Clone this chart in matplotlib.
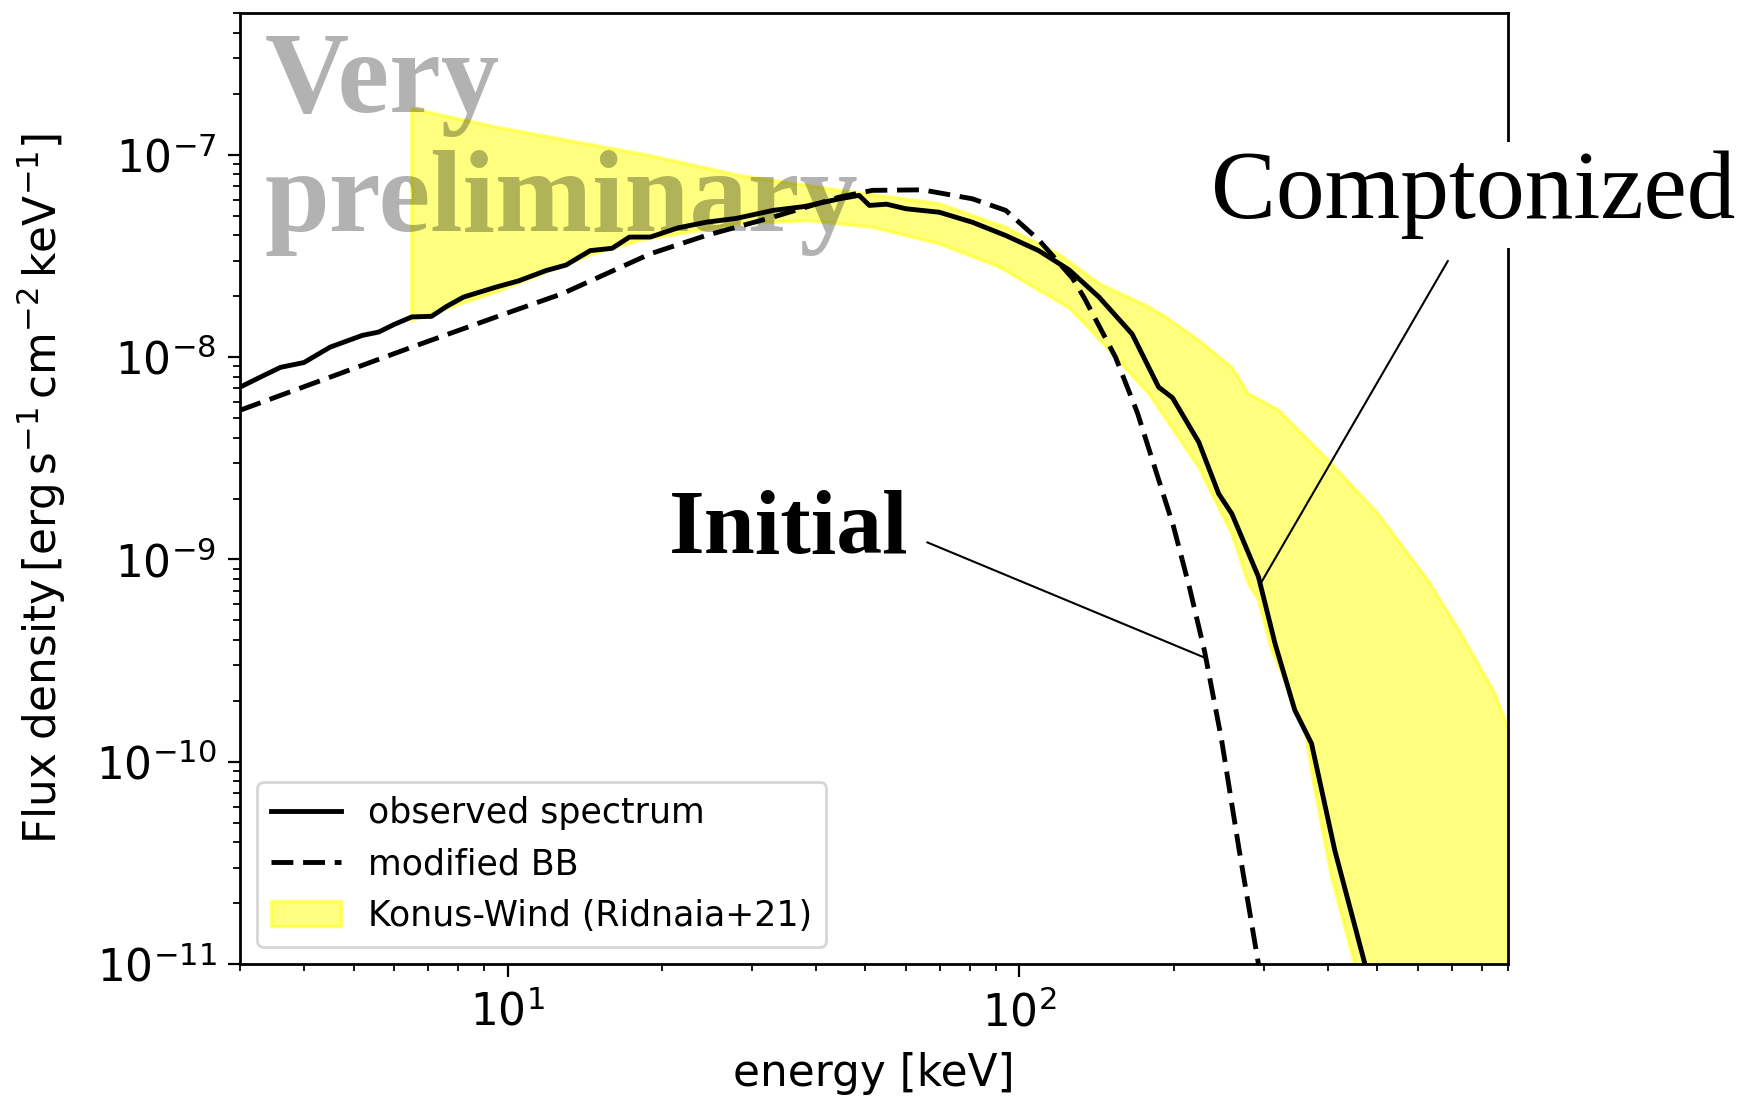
import matplotlib.pyplot as plt

# observed spectrum (solid)
obs_e = [3.0, 3.3, 3.6, 4.0, 4.5, 5.2, 5.6, 6.0, 6.5, 7.1, 7.6, 8.2, 9.5, 10.5, 11.9,
         13.0, 14.5, 16.0, 17.3, 19.0, 21.5, 24.4, 28.0, 33.0, 38.0, 44.5, 48.6, 50.9,
         55.0, 60.0, 69.7, 80.9, 94.0, 109, 125, 143, 166, 187, 199, 224, 245, 260,
         293, 316, 345, 372, 413, 473, 520]
obs_f = [7.1e-9, 8.0e-9, 8.9e-9, 9.4e-9, 1.12e-8, 1.28e-8, 1.33e-8, 1.45e-8, 1.58e-8,
         1.59e-8, 1.78e-8, 1.98e-8, 2.22e-8, 2.38e-8, 2.68e-8, 2.85e-8, 3.36e-8, 3.45e-8,
         3.92e-8, 3.92e-8, 4.35e-8, 4.64e-8, 4.85e-8, 5.31e-8, 5.55e-8, 6.06e-8, 6.30e-8,
         5.62e-8, 5.70e-8, 5.41e-8, 5.20e-8, 4.64e-8, 3.99e-8, 3.36e-8, 2.7e-8, 1.98e-8,
         1.30e-8, 7.1e-9, 6.3e-9, 3.8e-9, 2.11e-9, 1.68e-9, 8.2e-10, 3.8e-10, 1.8e-10,
         1.23e-10, 3.65e-11, 1.0e-11, 3e-12]

# modified blackbody (dashed)
bb_e = [3.0, 4.5, 6.5, 9.5, 12.8, 19.0, 24.4, 33.0, 44.5, 51.6, 64.6, 80.9, 94.0,
        109, 127, 134, 154, 170, 185, 200, 215, 230, 248, 268, 293, 320]
bb_f = [5.46e-9, 7.96e-9, 1.12e-8, 1.58e-8, 2.06e-8, 3.24e-8, 3.99e-8, 4.92e-8, 6.18e-8,
        6.67e-8, 6.71e-8, 6.06e-8, 5.31e-8, 3.8e-8, 2.45e-8, 1.95e-8, 1.0e-8, 5.3e-9,
        2.7e-9, 1.45e-9, 7.2e-10, 3.5e-10, 1.3e-10, 3.8e-11, 1.0e-11, 2.5e-12]

# Konus-Wind band
kw_e = [6.5, 9.5, 13.8, 19.0, 28.4, 44.5, 69.7, 94, 120, 143, 179, 193, 225, 260, 280,
        321, 401, 501, 628, 728, 848, 899, 1000]
kw_hi = [1.69e-7, 1.37e-7, 1.15e-7, 9.9e-8, 7.9e-8, 6.67e-8, 5.73e-8, 4.38e-8, 3.2e-8,
         2.31e-8, 1.77e-8, 1.58e-8, 1.2e-8, 8.9e-9, 6.6e-9, 5.46e-9, 3.09e-9, 1.69e-9,
         7.88e-10, 4.31e-10, 2.18e-10, 1.48e-10, 8e-11]
kw_lo_e = [6.5, 9.5, 14.5, 18.2, 28.4, 38.3, 51.6, 69.7, 91.2, 125, 136, 154, 179, 224,
           241, 260, 280, 293, 311, 332, 362, 378, 407, 452, 500, 1000]
kw_lo = [1.52e-8, 2.1e-8, 3.2e-8, 3.78e-8, 4.56e-8, 4.73e-8, 4.38e-8, 3.63e-8, 2.79e-8,
         1.75e-8, 1.41e-8, 1.0e-8, 6.6e-9, 2.86e-9, 1.96e-9, 1.34e-9, 7.6e-10, 6.3e-10,
         3.56e-10, 2.43e-10, 1.38e-10, 7.2e-11, 2.7e-11, 1.0e-11, 3e-12, 1e-13]

fig = plt.figure(figsize=(17.53, 10.96), dpi=100)
ax = fig.add_axes([0.1369, 0.1204, 0.7233, 0.8674])

ax.plot(obs_e, obs_f, color='black', lw=3.5, label='observed spectrum')
ax.plot(bb_e, bb_f, color='black', lw=3.5, ls=(0, (4.5, 2.0)), label='modified BB')
# band polygon: upper edge left to right, lower edge right to left
poly_e = kw_e + kw_lo_e[::-1]
poly_f = kw_hi + kw_lo[::-1]
ax.fill(poly_e, poly_f, color='yellow', alpha=0.5, lw=2.5,
        label='Konus-Wind (Ridnaia+21)')

ax.set_xscale('log')
ax.set_yscale('log')
ax.set_xlim(3, 900)
ax.set_ylim(1e-11, 5e-7)
ax.set_xlabel('energy [keV]', fontsize=31.5, labelpad=12)
ax.set_ylabel(r'Flux density$\,[{\rm erg\,s^{-1}\,cm^{-2}\,keV^{-1}}]$', fontsize=31.5,
              labelpad=20)
ax.tick_params(which='major', labelsize=31.5, length=9, width=1.6)
ax.tick_params(axis='x', which='major', pad=10)
ax.tick_params(axis='y', which='major', pad=8)
ax.tick_params(which='minor', length=5, width=1.3)
for s in ax.spines.values():
    s.set_linewidth(2)

leg = ax.legend(loc='lower left', fontsize=25)
leg.get_frame().set_linewidth(2)

# slide annotations
fig.text(0.151, 0.898, 'Very', family='Liberation Serif', fontsize=84,
         fontweight='bold', color='black', alpha=0.3, va='baseline')
fig.text(0.151, 0.789, 'preliminary', family='Liberation Serif', fontsize=84,
         fontweight='bold', color='black', alpha=0.3, va='baseline')

fig.text(0.6908, 0.8011, 'Comptonized', family='Liberation Serif', fontsize=70,
         va='baseline', bbox=dict(facecolor='white', edgecolor='none', pad=6))
ax.annotate('', xy=(297, 7.73e-10), xytext=(687, 2.99e-8),
            arrowprops=dict(arrowstyle='-', color='black', lw=1.5,
                            shrinkA=0, shrinkB=0), annotation_clip=False)

fig.text(0.3816, 0.4954, 'Initial', family='Liberation Serif', fontsize=66,
         fontweight='bold', va='baseline')
ax.annotate('', xy=(232, 3.24e-10), xytext=(66.0, 1.215e-9),
            arrowprops=dict(arrowstyle='-', color='black', lw=1.5,
                            shrinkA=0, shrinkB=0))

fig.savefig('out.png', dpi=100)
